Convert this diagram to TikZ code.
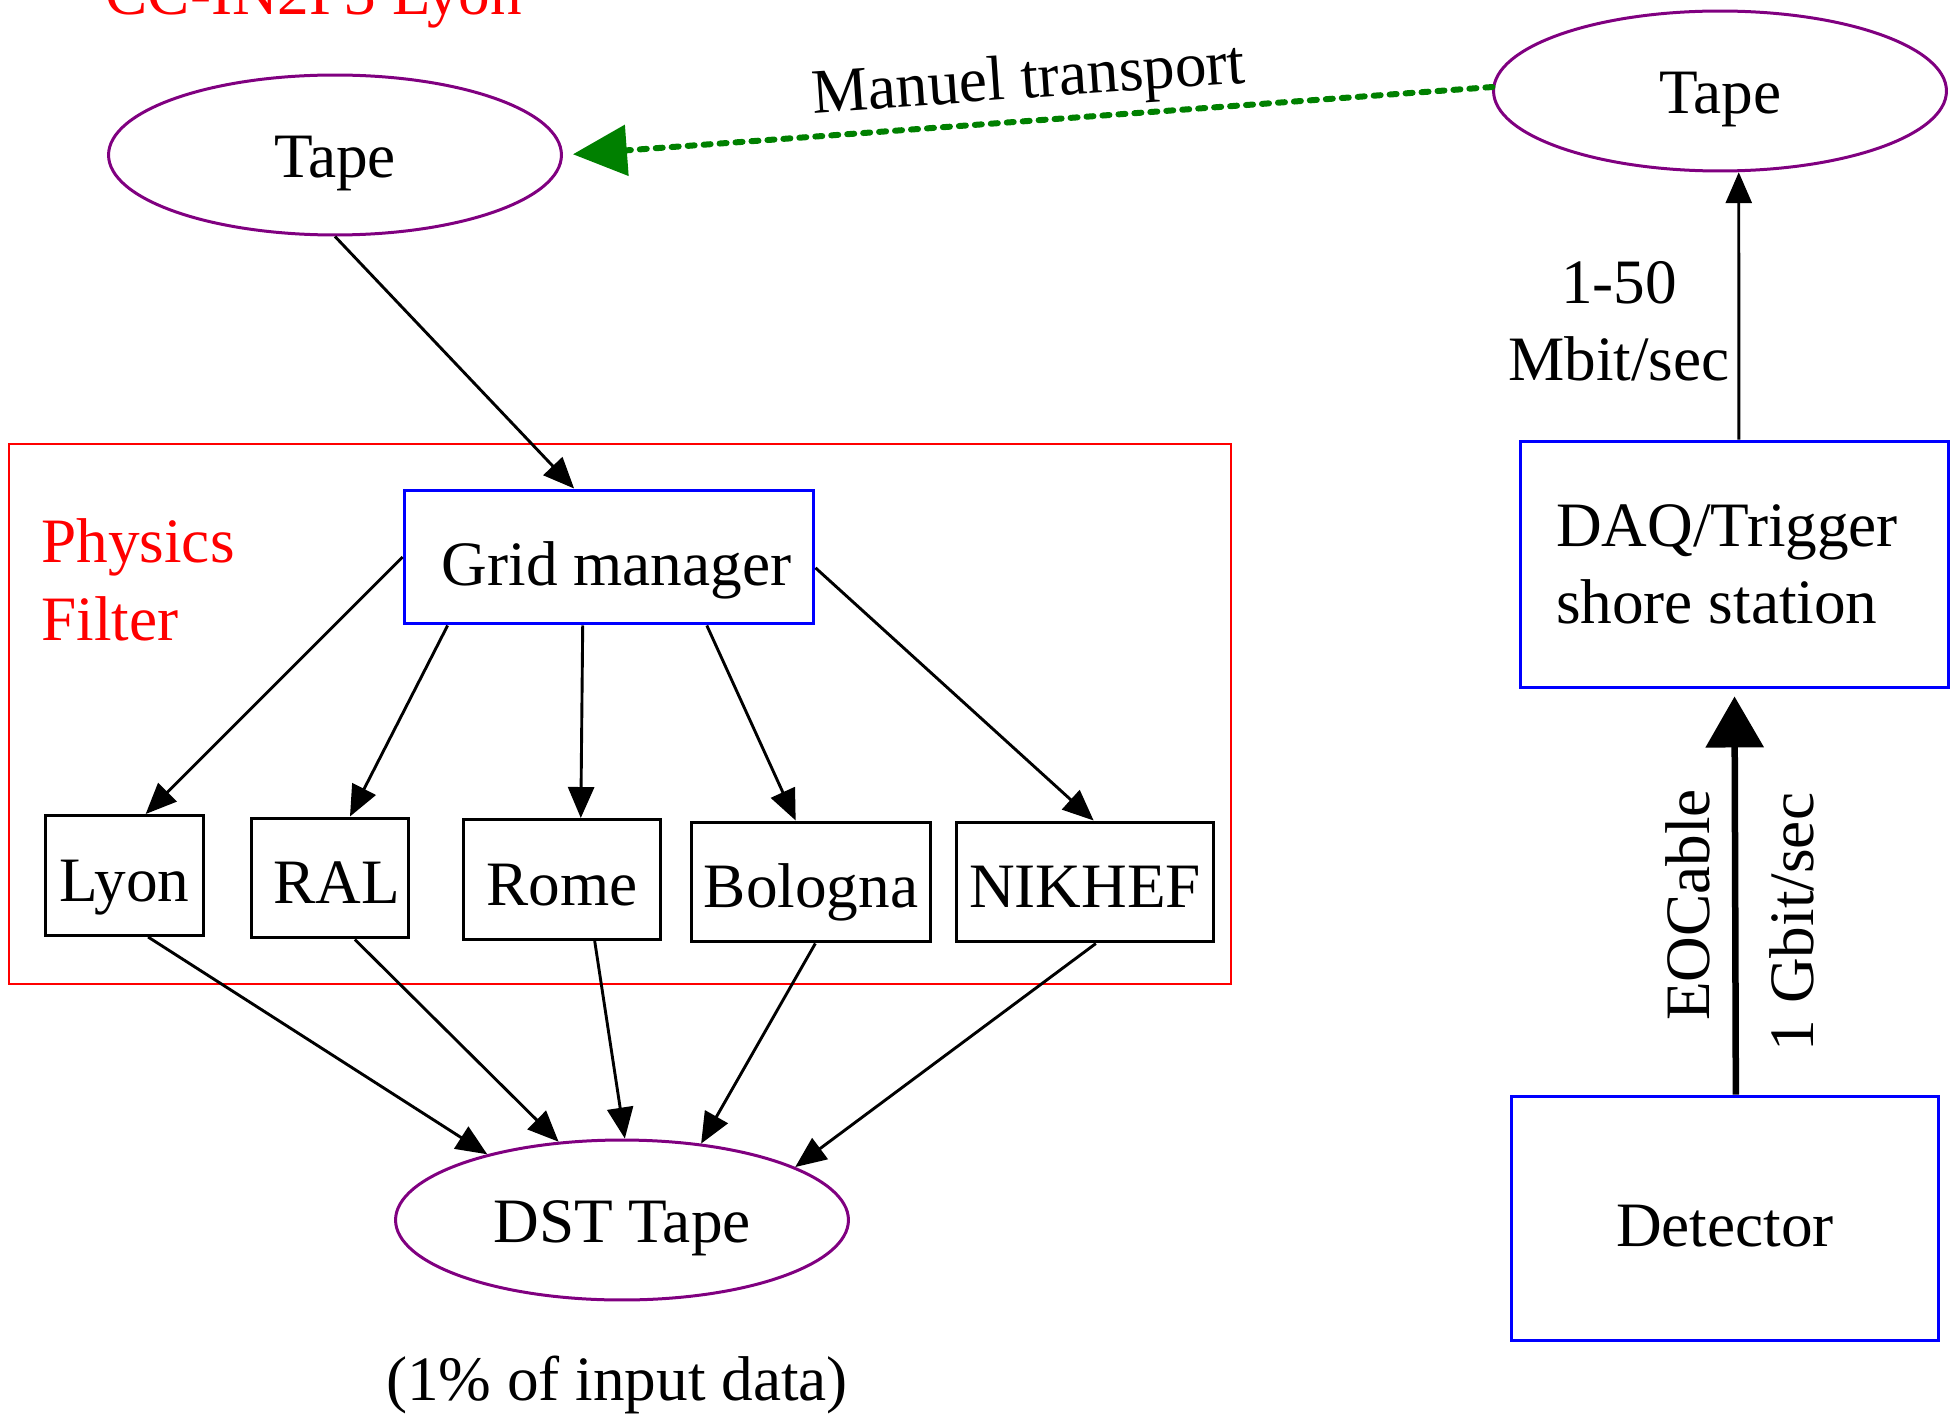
\documentclass[tikz,border=0pt]{standalone}
\usepackage{fontspec}
\setmainfont{Liberation Serif}
\usetikzlibrary{shapes.geometric,arrows.meta}
\definecolor{tapepurple}{RGB}{128,0,128}
\definecolor{transgreen}{RGB}{0,128,0}
\tikzset{
 tape/.style={ellipse,draw=tapepurple,line width=0.06cm,minimum width=9.06cm,minimum height=3.2cm,inner sep=0pt,text height=26pt,text depth=0pt},
 bluebox/.style={rectangle,draw=blue,line width=0.06cm},
 sitebox/.style={rectangle,draw=black,line width=0.06cm,minimum height=2.4cm,inner sep=0pt,text height=29.5pt,text depth=0pt},
 flow/.style={-{Triangle[length=0.62cm,width=0.52cm]},line width=0.058cm},
 cable/.style={-{Triangle[length=1.02cm,width=1.14cm]},line width=0.13cm},
 manual/.style={-{Triangle[length=1.08cm,width=1.0cm]},transgreen,line width=0.12cm,dash pattern=on 0.14cm off 0.18cm,line cap=round}
}
\begin{document}
\begin{tikzpicture}[x=0.02cm,y=-0.02cm,font=\fontsize{36}{44}\selectfont]
 \useasboundingbox (0,0) rectangle (1960,1419);
 % CC-IN2P3 side
 \node[anchor=base,red] (cclabel) at (314,15) {CC-IN2P3 Lyon};
 \node[tape] (tapel) at (335,155) {Tape};
 \draw[red,line width=0.05cm] (9,444) rectangle (1231,984);
 \node[anchor=west,red,align=left,inner sep=0pt] (filter) at (41,580) {Physics\\Filter};
 \node[bluebox,minimum width=8.2cm,minimum height=2.68cm,text height=32.4pt,text depth=0pt] (grid) at (609,557) {\hspace{0.3cm}Grid manager};
 \node[sitebox,minimum width=3.18cm] (lyon) at (124.5,875.5) {Lyon};
 \node[sitebox,minimum width=3.16cm] (ral) at (330,878) {\hspace{0.26cm}RAL};
 \node[sitebox,minimum width=3.96cm] (rome) at (562,879.5) {Rome};
 \node[sitebox,minimum width=4.8cm] (bologna) at (811,882) {Bologna};
 \node[sitebox,minimum width=5.16cm] (nikhef) at (1085,882) {NIKHEF};
 \node[tape] (dst) at (622,1220) {DST Tape};
 \node (dstnote) at (617,1385) {(1\% of input data)};
 % shore side
 \node[tape] (taper) at (1720,91) {Tape};
 \node[bluebox,align=left,minimum width=8.58cm,minimum height=4.94cm] (daq) at (1734.5,564.5) {DAQ/Trigger\rule{0.3cm}{0pt}\\shore station};
 \node[bluebox,minimum width=8.56cm,minimum height=4.9cm,text height=32.4pt,text depth=0pt] (det) at (1725,1218.5) {Detector};
 \node[align=center,inner sep=0pt] (rate) at (1619,321) {1-50\\Mbit/sec};
 \node[rotate=90,anchor=base] (eocable) at (1709,905) {EOCable};
 \node[rotate=90,anchor=base] (gbit) at (1813,922) {1 Gbit/sec};
 \node[rotate=4,anchor=base] (manuel) at (1030,98) {Manuel transport};
 % connectors
 \draw[manual,shorten >=0.2cm] (taper.179) -- (tapel.east);
 \draw[flow] (tapel.south) -- (grid.117);
 \draw[flow] (grid.west) -- (lyon.71);
 \draw[flow] (grid.203) -- (ral.72);
 \draw[flow] (grid.249) -- (rome.73);
 \draw[flow] (grid.-35) -- (bologna.104);
 \draw[flow] (grid.-3) -- (nikhef.82);
 \draw[flow] (lyon.-69) -- (dst.154);
 \draw[flow] (ral.-68) -- (dst.129);
 \draw[flow] (rome.-62) -- (dst.88);
 \draw[flow] (bologna.-86) -- (dst.44);
 \draw[flow] (nikhef.-80) -- (dst.17);
 \draw[flow] (daq.88) -- (taper.-77);
 \draw[cable,shorten >=0.14cm] (det.85) -- (daq.south);
\end{tikzpicture}
\end{document}
